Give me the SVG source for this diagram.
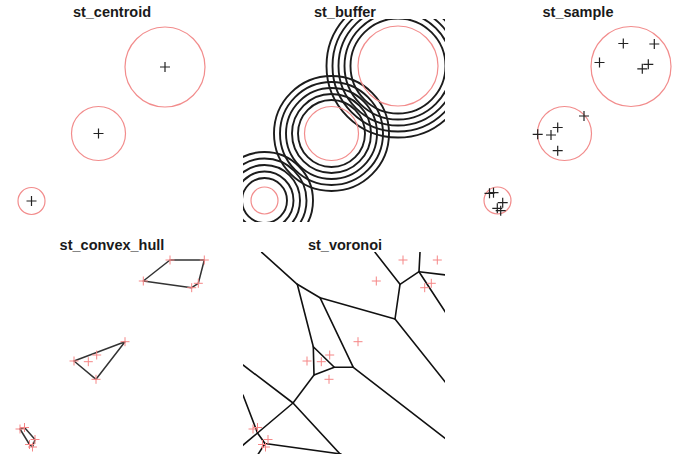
<svg xmlns="http://www.w3.org/2000/svg" width="673" height="454" viewBox="0 0 673 454">
<style>
.title{font-family:"Liberation Sans",Arial,sans-serif;font-weight:bold;font-size:14.5px;fill:#1a1a1a;text-anchor:middle}
.poly{fill:none;stroke:#f28c8c;stroke-width:1.2}
.ring{fill:none;stroke:#1c1c1c;stroke-width:1.9}
.pt{stroke:#222;stroke-width:1.2;fill:none}
.rpt{stroke:#f58686;stroke-width:1;fill:none}
.hull{fill:none;stroke:#333;stroke-width:1.5;stroke-linejoin:round}
.edge{fill:none;stroke:#111;stroke-width:1.6;stroke-linecap:round;stroke-linejoin:round}
</style>
<defs>
<path id="plus" d="M-5,0H5M0,-5V5"/>
<path id="rplus" d="M-4.5,0H4.5M0,-4.5V4.5"/>
<clipPath id="clipBuf"><rect x="243" y="19" width="202" height="203"/></clipPath>
<clipPath id="clipVor"><rect x="243" y="252" width="202" height="202"/></clipPath>
</defs>
<rect width="673" height="454" fill="#fff"/>

<g id="st_centroid">
<text class="title" x="112" y="17">st_centroid</text>
<circle class="poly" cx="165" cy="67" r="40"/>
<circle class="poly" cx="98.5" cy="133.5" r="27"/>
<circle class="poly" cx="31.5" cy="201" r="13.5"/>
<use href="#plus" class="pt" x="165" y="67"/>
<use href="#plus" class="pt" x="98.5" y="133.5"/>
<use href="#plus" class="pt" x="31.5" y="201"/>
</g>

<g id="st_buffer">
<text class="title" x="345" y="17">st_buffer</text>
<g clip-path="url(#clipBuf)">
<g class="ring">
<circle cx="398" cy="66" r="47.5"/><circle cx="398" cy="66" r="53.5"/><circle cx="398" cy="66" r="59.5"/><circle cx="398" cy="66" r="65.5"/><circle cx="398" cy="66" r="71.5"/>
<circle cx="331.5" cy="133.5" r="33.5"/><circle cx="331.5" cy="133.5" r="39.5"/><circle cx="331.5" cy="133.5" r="45.5"/><circle cx="331.5" cy="133.5" r="51.5"/><circle cx="331.5" cy="133.5" r="57.5"/>
<circle cx="264.5" cy="200.5" r="22.5"/><circle cx="264.5" cy="200.5" r="29"/><circle cx="264.5" cy="200.5" r="35.5"/><circle cx="264.5" cy="200.5" r="42"/><circle cx="264.5" cy="200.5" r="48.5"/>
</g>
<circle class="poly" cx="398" cy="66" r="40"/>
<circle class="poly" cx="331.5" cy="133.5" r="27"/>
<circle class="poly" cx="264.5" cy="200.5" r="13.5"/>
</g>
</g>

<g id="st_sample">
<text class="title" x="578" y="17">st_sample</text>
<circle class="poly" cx="631" cy="66.5" r="40"/>
<circle class="poly" cx="564.5" cy="133.5" r="27"/>
<circle class="poly" cx="497.5" cy="200.5" r="13.5"/>
<g class="pt">
<use href="#plus" x="623.3" y="43.5"/><use href="#plus" x="654.3" y="44"/><use href="#plus" x="599.5" y="62.5"/><use href="#plus" x="642.3" y="68.8"/><use href="#plus" x="648.3" y="64.3"/>
<use href="#plus" x="584" y="116"/><use href="#plus" x="557.7" y="127.5"/><use href="#plus" x="551" y="135"/><use href="#plus" x="537.7" y="134.3"/><use href="#plus" x="557.7" y="150.7"/>
<use href="#plus" x="489.5" y="193.3"/><use href="#plus" x="493.5" y="192.7"/><use href="#plus" x="502.7" y="202.7"/><use href="#plus" x="497.3" y="208.3"/><use href="#plus" x="500.7" y="210.7"/>
</g>
</g>

<g id="st_convex_hull">
<text class="title" x="112" y="250">st_convex_hull</text>
<polygon class="hull" points="170,260 204.3,260 198.3,283.3 191.7,287.7 143.3,281"/>
<polygon class="hull" points="125,341.7 74,361 96,379.3"/>
<polygon class="hull" points="20,429 24.5,427.5 35,439.5 32.5,447 29.5,444.5"/>
<g class="rpt">
<use href="#rplus" x="170" y="260"/><use href="#rplus" x="204.3" y="260"/><use href="#rplus" x="143.3" y="281"/><use href="#rplus" x="191.7" y="287.7"/><use href="#rplus" x="198.3" y="283.3"/>
<use href="#rplus" x="125" y="341.7"/><use href="#rplus" x="96.7" y="355"/><use href="#rplus" x="88.3" y="361.7"/><use href="#rplus" x="74" y="361"/><use href="#rplus" x="96" y="379.3"/>
<use href="#rplus" x="20" y="429"/><use href="#rplus" x="24.5" y="427.5"/><use href="#rplus" x="35" y="439.5"/><use href="#rplus" x="32.5" y="447"/><use href="#rplus" x="29.5" y="444.5"/>
</g>
</g>

<g id="st_voronoi">
<text class="title" x="345" y="250">st_voronoi</text>
<g clip-path="url(#clipVor)">
<g id="connectors" class="edge">
<path d="M261.7,252.3L297.3,284.3L320,297.7L395,319L400,284.3L375,252.3"/>
<path d="M400,284.3L419,271.7L420,252.3"/>
<path d="M419,271.7L446,275"/>
<path d="M419,271.7L446,313"/>
<path d="M395,319L446,383"/>
<path d="M297.3,284.3L313.3,346.7"/>
<path d="M313.3,346.7L334.3,367.3L314,375Z"/>
<path d="M320,297.7L353.3,367.3L334.3,367.3"/>
<path d="M353.3,367.3L446,439"/>
<path d="M314,375L293,403"/>
<path d="M243,365L293,403L341,455"/>
<path d="M293,403L257.5,433L242,446"/>
<path d="M243,395L257.5,433L265,443.5L341,454"/>
<path d="M265,443.5L257,456"/>
</g>
</g>
<g class="rpt">
<use href="#rplus" x="403" y="260"/><use href="#rplus" x="437.3" y="260"/><use href="#rplus" x="376.3" y="281"/><use href="#rplus" x="424.7" y="287.7"/><use href="#rplus" x="431.3" y="283.3"/>
<use href="#rplus" x="358" y="341.7"/><use href="#rplus" x="329.7" y="355"/><use href="#rplus" x="321.3" y="361.7"/><use href="#rplus" x="307" y="361"/><use href="#rplus" x="329" y="379.3"/>
<use href="#rplus" x="253" y="429"/><use href="#rplus" x="257.5" y="427.5"/><use href="#rplus" x="268" y="439.5"/><use href="#rplus" x="265.5" y="447"/><use href="#rplus" x="262.5" y="444.5"/>
</g>
</g>
</svg>
